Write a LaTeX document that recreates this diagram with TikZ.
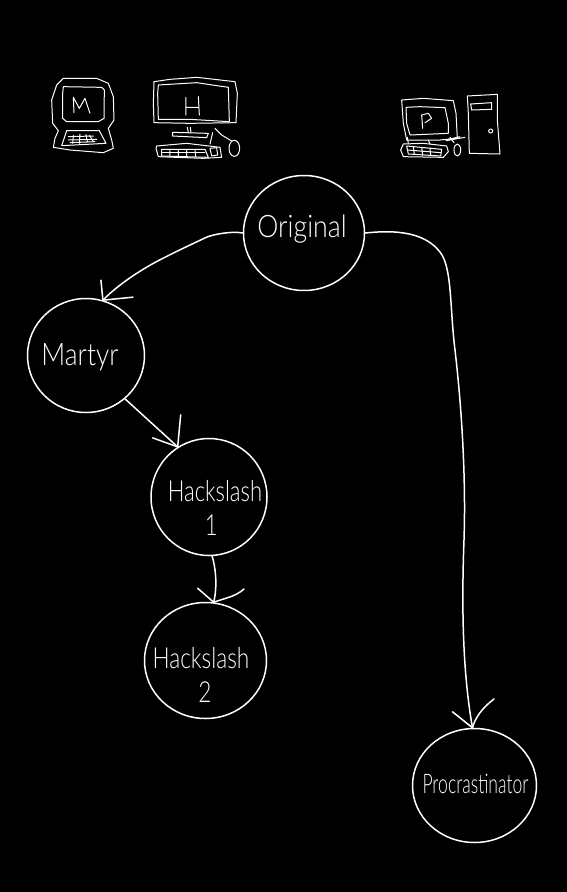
\documentclass[tikz,border=0pt]{standalone}
\usepackage{fontspec}
\setmainfont{Lato}[UprightFont=* Light]
\usetikzlibrary{shapes.geometric}
\tikzset{
  bubble/.style={draw=white,line width=1.5pt,ellipse,inner sep=0pt,fill=black},
  label text/.style={text=white,inner sep=0pt,align=center,font=\fontsize{31}{33}\selectfont},
  link/.style={draw=white,line width=1.5pt,line cap=round,line join=round},
  sketch/.style={draw=white,line width=1pt,line cap=round,line join=round}
}
\begin{document}
\begin{tikzpicture}[x=1pt,y=-1pt]
\path[fill=black,use as bounding box] (0,0) rectangle (567,892);

% Nodes
\node[bubble,minimum width=121pt,minimum height=115pt] (orig) at (304,233) {};
\node[bubble,minimum width=117pt,minimum height=114pt] (mart) at (86,355.5) {};
\node[bubble,minimum width=116pt,minimum height=117pt] (hs1) at (209,497) {};
\node[bubble,minimum width=122pt,minimum height=116pt] (hs2) at (205.5,660.5) {};
\node[bubble,minimum width=124pt,minimum height=114pt] (proc) at (474.5,785.5) {};

\node[label text,xscale=.86] (torig) at (302,229) {Original};
\node[label text,xscale=.85] (tmart) at (80,357) {Martyr};
\node[label text,xscale=.76,font=\fontsize{29}{34}\selectfont] (ths1) at (215,508) {Hackslash\\\hspace*{-10pt}1};
\node[label text,xscale=.78,font=\fontsize{29}{34}\selectfont] (ths2) at (201,675) {Hackslash\\\hspace*{10pt}2};
\node[label text,xscale=.65,font=\fontsize{27}{30}\selectfont] (tproc) at (475.5,784) {Procrastinator};

% Connectors
\draw[link] (orig.west) .. controls (232,231) and (215,234) .. (207,237)
  .. controls (190,245) and (160,259) .. (147,267)
  .. controls (130,277) and (115,288) .. (mart.73);
\draw[link] (mart.73) -- ++(-2,-20);
\draw[link] (mart.73) -- ++(30,-3);

\draw[link] (orig.east) .. controls (385,231) and (425,228) .. (442,255)
  .. controls (452,272) and (450,310) .. (455,350)
  .. controls (462,410) and (466,480) .. (464,540)
  .. controls (461,620) and (464,680) .. (proc.92);
\draw[link] (proc.92) -- ++(-20,-16);
\draw[link] (proc.92) .. controls (475,718) and (482,708) .. (494,699);

\draw[link] (mart.-48) -- (hs1.122);
\draw[link] (hs1.122) -- ++(3,-32);
\draw[link] (hs1.122) -- ++(-25,-9);

\draw[link] (hs1.-87) .. controls (215,565) and (218,585) .. (hs2.82);
\draw[link] (hs2.82) -- ++(-16,-14);
\draw[link] (hs2.82) .. controls (225,598) and (235,597) .. (244,589);

% Computer M
\begin{scope}[shift={(30,60)},xscale=1/3,yscale=1/3]
\draw[sketch] (100,55) -- (200,55) -- (235,70) -- (250,110) -- (252,180) -- (235,205) -- (245,240) -- (250,265) -- (220,278) -- (120,270) -- (70,262) -- (75,235) -- (85,212) -- (68,190) -- (65,120) -- (80,75) -- cycle;
\draw[sketch] (100,80) -- (215,82) -- (223,90) -- (222,175) -- (205,185) -- (110,185) -- (98,175) -- (98,100) -- cycle;
\draw[sketch] (132,158) -- (130,112) -- (148,145) -- (165,115) -- (180,160);
\draw[sketch] (110,212) -- (208,212) -- (228,250) -- (95,257) -- cycle;
\draw[sketch] (115,230) -- (190,228) (115,240) -- (200,238) (120,248) -- (195,245);
\draw[sketch] (130,226) -- (128,250) (150,222) -- (148,250) (168,224) -- (172,246) (178,226) -- (190,244);
\end{scope}

% Computer H
\begin{scope}[shift={(30,60)},xscale=1/3,yscale=1/3]
\draw[sketch] (372,65) -- (420,58) -- (500,52) -- (615,65) -- (622,100) -- (618,188) -- (480,190) -- (372,188) -- (370,130) -- cycle;
\draw[sketch] (385,75) -- (500,68) -- (595,82) -- (598,185) -- (480,178) -- (385,178) -- (383,100) -- cycle;
\draw[sketch] (468,112) -- (468,165) (505,110) -- (508,165) (470,142) -- (505,142);
\draw[sketch] (472,202) -- (475,218) (481,202) -- (483,218);
\draw[sketch] (428,217) -- (535,220) -- (530,233) -- (428,228) -- cycle;
\draw[sketch] (555,205) -- (575,225) -- (605,243);
\draw[sketch] (613,265) ellipse [x radius=16,y radius=24];
\draw[sketch] (548,218) -- (540,252);
\draw[sketch] (380,258) -- (470,250) -- (570,262) -- (575,292) -- (520,295) -- (385,290) -- (378,265) -- cycle;
\draw[sketch] (395,268) -- (525,268) -- (535,292) -- (395,288) -- cycle;
\draw[sketch] (398,278) -- (525,278);
\draw[sketch] (420,268) -- (420,288) (445,268) -- (445,290) (470,268) -- (470,290) (495,268) -- (497,290);
\draw[sketch] (540,265) -- (560,263) -- (563,285) -- (545,288) -- cycle;
\end{scope}

% Computer P
\begin{scope}[shift={(380,80)},xscale=1/3,yscale=1/3]
\draw[sketch] (65,60) -- (130,55) -- (220,62) -- (228,100) -- (232,175) -- (180,180) -- (80,180) -- (70,130) -- cycle;
\draw[sketch] (78,82) -- (120,80) -- (195,83) -- (205,130) -- (205,160) -- (90,165) -- (80,130) -- cycle;
\draw[sketch] (128,145) -- (125,105) -- (145,100) -- (155,115) -- (135,128);
\draw[sketch] (82,172) -- (85,190) (145,180) -- (150,192);
\draw[sketch] (198,182) -- (255,172) (210,172) -- (222,188) (205,178) -- (240,170);
\draw[sketch] (70,192) -- (130,190) -- (200,198) -- (205,215) -- (190,232) -- (70,230) -- (62,210) -- cycle;
\draw[sketch] (80,198) -- (185,208) -- (182,228) -- (85,222) -- cycle;
\draw[sketch] (82,210) -- (183,218);
\draw[sketch] (100,200) -- (103,224) (125,202) -- (128,226) (150,204) -- (152,226);
\draw[sketch] (232,210) ellipse [x radius=10,y radius=18];
\draw[sketch] (262,48) -- (352,43) -- (352,120) -- (360,222) -- (268,220) -- (265,100) -- cycle;
\draw[sketch] (272,72) -- (335,68) -- (335,88) -- (275,90) -- cycle;
\draw[sketch] (332,153) circle [radius=6];
\end{scope}
\end{tikzpicture}
\end{document}
